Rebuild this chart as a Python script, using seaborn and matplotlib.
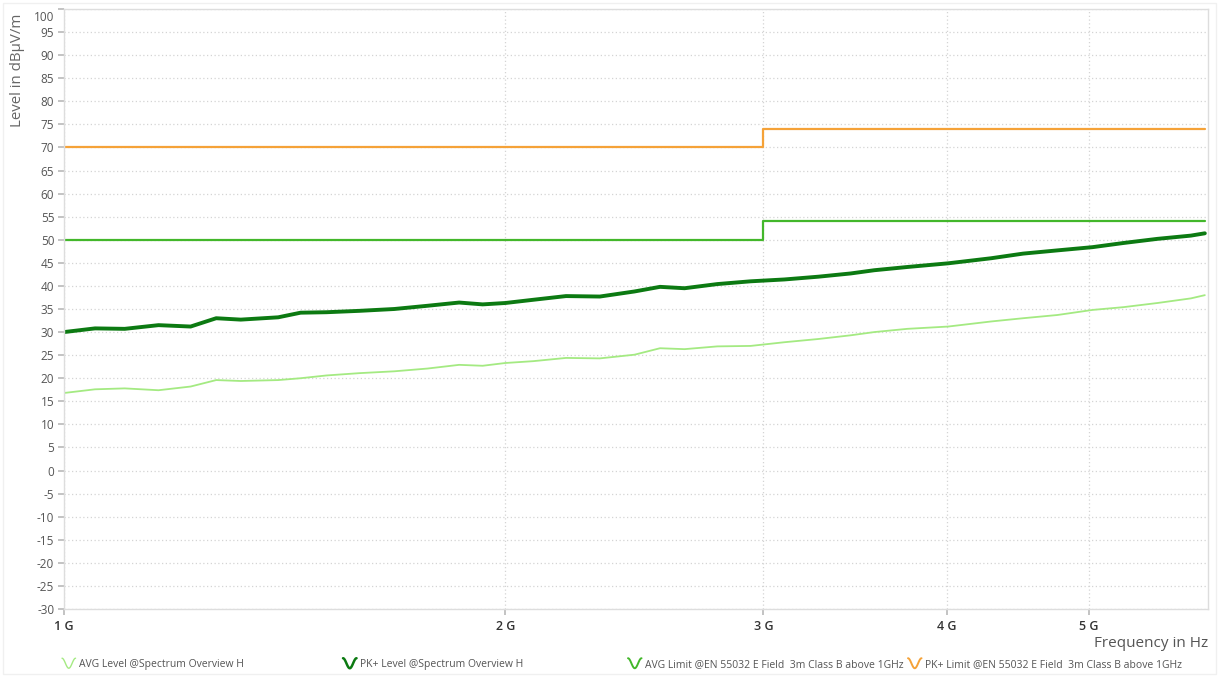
import numpy as np
import pandas as pd
import matplotlib
matplotlib.use("Agg")
import matplotlib.pyplot as plt
import matplotlib.transforms as mtransforms
import seaborn as sns
from matplotlib.lines import Line2D
from matplotlib.patches import Rectangle
from matplotlib.legend_handler import HandlerBase
from matplotlib.ticker import FixedLocator, FixedFormatter, NullLocator

freq_ghz = [1.00, 1.05, 1.10, 1.16, 1.22, 1.27, 1.32, 1.40, 1.45, 1.51,
            1.59, 1.68, 1.77, 1.86, 1.93, 2.00, 2.09, 2.20, 2.32, 2.45,
            2.55, 2.65, 2.79, 2.94, 3.10, 3.27, 3.44, 3.57, 3.76, 4.01,
            4.29, 4.51, 4.76, 5.03, 5.28, 5.57, 5.87, 6.00]
pk_level = [30.0, 30.8, 30.7, 31.5, 31.2, 33.0, 32.7, 33.2, 34.2, 34.3,
            34.6, 35.0, 35.7, 36.4, 36.0, 36.3, 37.0, 37.8, 37.7, 38.8,
            39.8, 39.5, 40.4, 41.0, 41.4, 42.0, 42.7, 43.4, 44.1, 44.9,
            46.0, 47.0, 47.7, 48.4, 49.3, 50.2, 50.9, 51.4]
avg_level = [16.8, 17.6, 17.8, 17.4, 18.2, 19.6, 19.4, 19.6, 20.0, 20.6,
             21.1, 21.5, 22.1, 22.9, 22.7, 23.3, 23.7, 24.4, 24.3, 25.1,
             26.5, 26.3, 26.9, 27.0, 27.8, 28.5, 29.3, 30.0, 30.7, 31.2,
             32.3, 33.0, 33.7, 34.8, 35.4, 36.3, 37.3, 38.0]

# EN 55032 class B limits above 1 GHz
limit_freq_ghz = [1.0, 3.0, 6.0]
avg_limit = [50, 54, 54]
pk_limit = [70, 74, 74]

xtick_ghz = [1, 2, 3, 4, 5]
xtick_labels = ["1 G", "2 G", "3 G", "4 G", "5 G"]
ytick_values = list(range(-30, 101, 5))

legend_labels = ["AVG Level @Spectrum Overview H",
                 "PK+ Level @Spectrum Overview H",
                 "AVG Limit @EN 55032 E Field  3m Class B above 1GHz",
                 "PK+ Limit @EN 55032 E Field  3m Class B above 1GHz"]

c_avg = "#a4ea82"
c_pk = "#0c7a12"
c_avg_lim = "#43b72b"
c_pk_lim = "#f5a238"

levels = pd.DataFrame({"freq": np.array(freq_ghz) * 1e9, "pk": pk_level, "avg": avg_level})
limits = pd.DataFrame({"freq": np.array(limit_freq_ghz) * 1e9, "avg": avg_limit, "pk": pk_limit})

sns.set_theme(style="white")
plt.rcParams["font.family"] = ["Open Sans", "DejaVu Sans"]

W, H = 1221, 677
fig = plt.figure(figsize=(W / 100, H / 100), dpi=100)
ax = fig.add_axes([64 / W, 1 - 609 / H, (1208 - 64) / W, (609 - 9) / H])

sns.lineplot(data=levels, x="freq", y="avg", color=c_avg, lw=1.3, ax=ax)
sns.lineplot(data=levels, x="freq", y="pk", color=c_pk, lw=2.8, ax=ax)
sns.lineplot(data=limits, x="freq", y="avg", color=c_avg_lim, lw=1.6, drawstyle="steps-post", ax=ax)
sns.lineplot(data=limits, x="freq", y="pk", color=c_pk_lim, lw=1.6, drawstyle="steps-post", ax=ax)

ax.set_xscale("log")
ax.set_xlim(1e9, 6.03e9)
ax.set_ylim(-30, 100)
ax.xaxis.set_major_locator(FixedLocator([v * 1e9 for v in xtick_ghz]))
ax.xaxis.set_major_formatter(FixedFormatter(xtick_labels))
ax.xaxis.set_minor_locator(NullLocator())
ax.set_yticks(ytick_values)
ax.set_yticklabels([str(v) for v in ytick_values])

ax.grid(True, color="#d4d4d4", linestyle=(0, (1, 2)), linewidth=0.9)
for s in ax.spines.values():
    s.set_color("#dddddd")
    s.set_linewidth(1.0)
ax.tick_params(axis="y", length=4, color="#bbbbbb", labelsize=8.5, labelcolor="#555555", pad=3, left=True)
ax.tick_params(axis="x", length=4, color="#bbbbbb", labelsize=9, labelcolor="#333333", pad=4, bottom=True)
for t in ax.get_xticklabels():
    t.set_fontweight("semibold")

# top label sits a little lower, like the original
top_lab = ax.get_yticklabels()[-1]
top_lab.set_transform(top_lab.get_transform() + mtransforms.ScaledTranslation(0, -5 / 72, fig.dpi_scale_trans))

ax.set_ylabel("Level in dB\u00b5V/m", fontsize=10.8, color="#666666")
ax.yaxis.set_label_coords(-0.034, 0.897)
ax.set_xlabel("Frequency in Hz", fontsize=11, color="#555555", ha="right", va="center")
ax.xaxis.set_label_coords(1.0, -0.057)


class SineHandler(HandlerBase):
    def create_artists(self, legend, orig_handle, xdescent, ydescent, width, height, fontsize, trans):
        t = np.linspace(0, 1, 40)
        xs = -xdescent + t * width
        ys = -ydescent + height * (0.5 + 0.5 * np.cos(2 * np.pi * t))
        ln = Line2D(xs, ys, color=orig_handle.get_color(), lw=orig_handle.get_linewidth(), transform=trans)
        return [ln]


legend_colors = [c_avg, c_pk, c_avg_lim, c_pk_lim]
legend_widths = [1.0, 1.8, 1.4, 1.4]
legend_x = [62, 343, 628, 908]
for lab, col, lw_, lx in zip(legend_labels, legend_colors, legend_widths, legend_x):
    h = Line2D([], [], color=col, lw=lw_)
    fig.legend([h], [lab], loc="center left", bbox_to_anchor=(lx / W, 1 - 664 / H),
               frameon=False, fontsize=7.5, handlelength=1.3, handleheight=1.1, handletextpad=0.3,
               borderpad=0, borderaxespad=0, labelcolor="#555555",
               handler_map={Line2D: SineHandler()})

fig.patches.append(Rectangle((3 / W, 3 / H), (W - 8) / W, (H - 6) / H, transform=fig.transFigure,
                             fill=False, edgecolor="#f0f0f0", lw=1.0))

fig.savefig("out.png", dpi=100, facecolor="white")
